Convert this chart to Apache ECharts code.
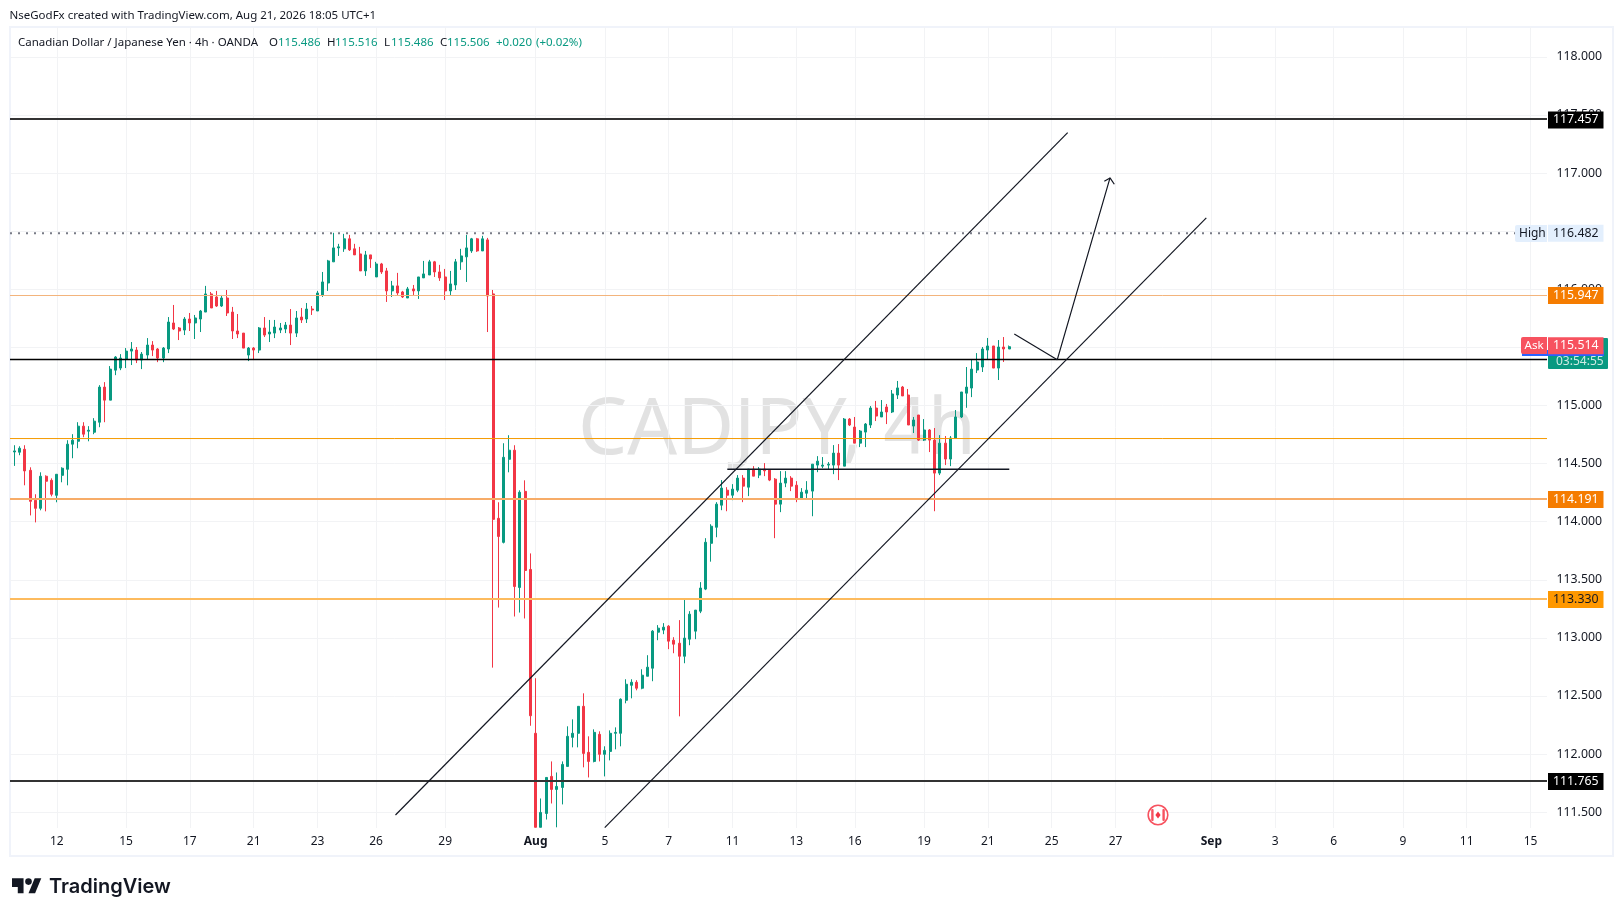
<!DOCTYPE html>
<html><head><meta charset="utf-8">
<style>html,body{margin:0;padding:0;background:#fff}#c{width:1623px;height:916px}</style>
<script src="https://cdn.jsdelivr.net/npm/echarts@6/dist/echarts.min.js"></script>
</head><body><div id="c"></div>
<script>
const opens=[114.600,114.598,114.623,114.442,114.184,114.115,114.391,114.356,114.227,114.399,
114.451,114.667,114.692,114.822,114.779,114.770,114.856,115.158,115.046,115.304,
115.322,115.399,115.468,115.477,115.391,115.434,115.520,115.486,115.408,115.486,
115.710,115.667,115.649,115.744,115.710,115.744,115.804,115.960,115.934,115.856,
115.925,115.804,115.641,115.623,115.434,115.494,115.477,115.667,115.615,115.623,
115.649,115.658,115.692,115.623,115.761,115.744,115.830,115.813,115.951,116.054,
116.236,116.356,116.348,116.434,116.348,116.304,116.158,116.296,116.106,116.218,
116.158,115.986,116.029,115.977,115.925,116.003,115.986,116.098,116.123,116.236,
116.149,116.106,115.986,116.037,116.236,116.279,116.330,116.434,116.330,116.425,
115.960,114.029,113.822,114.537,114.615,113.434,114.261,113.589,112.179,111.370,
111.489,111.808,111.696,111.713,111.894,112.144,112.179,112.411,112.015,111.937,
112.170,111.998,112.023,112.179,112.179,112.463,112.592,112.618,112.567,112.670,
112.739,113.049,113.067,113.101,112.980,112.954,112.842,112.989,113.058,113.230,
113.420,113.814,113.952,114.142,114.271,114.228,114.271,114.375,114.297,114.452,
114.401,114.452,114.444,114.366,114.151,114.332,114.375,114.314,114.202,114.245,
114.263,114.487,114.478,114.487,114.487,114.590,114.478,114.883,114.814,114.676,
114.771,114.832,114.978,114.901,114.987,114.944,115.090,115.159,115.090,114.823,
114.918,114.702,114.789,114.702,114.418,114.676,114.539,114.720,114.901,115.106,
115.150,115.305,115.331,115.477,115.512,115.322,115.503,115.486];
const closes=[114.609,114.632,114.437,114.175,114.115,114.391,114.348,114.236,114.408,114.460,
114.667,114.701,114.822,114.753,114.787,114.865,115.158,115.046,115.313,115.417,
115.408,115.468,115.486,115.391,115.442,115.520,115.477,115.408,115.494,115.718,
115.658,115.641,115.744,115.710,115.753,115.813,115.960,115.839,115.856,115.925,
115.796,115.641,115.615,115.494,115.494,115.477,115.667,115.606,115.632,115.675,
115.667,115.692,115.623,115.753,115.736,115.830,115.822,115.968,116.063,116.244,
116.356,116.365,116.434,116.339,116.296,116.158,116.296,116.261,116.218,116.149,
115.986,116.029,115.968,115.934,116.003,115.986,116.106,116.132,116.236,116.149,
116.098,115.986,116.046,116.236,116.287,116.356,116.434,116.330,116.434,115.942,
114.020,113.873,114.554,114.615,113.442,114.253,113.580,112.330,111.370,111.498,
111.799,111.696,111.722,111.911,112.153,112.179,112.411,112.006,111.937,112.187,
111.998,112.032,112.179,112.187,112.472,112.601,112.618,112.567,112.679,112.748,
113.058,113.084,113.092,112.972,112.946,112.842,112.998,113.204,113.239,113.429,
113.823,113.961,114.151,114.289,114.228,114.280,114.375,114.306,114.452,114.392,
114.452,114.438,114.358,114.151,114.332,114.375,114.306,114.202,114.254,114.271,
114.495,114.521,114.487,114.495,114.590,114.487,114.883,114.832,114.676,114.780,
114.840,114.978,114.909,114.944,114.944,115.099,115.151,115.082,114.832,114.875,
114.702,114.789,114.702,114.418,114.676,114.539,114.720,114.901,115.116,115.158,
115.313,115.374,115.486,115.512,115.322,115.503,115.486,115.506];
const lows=[114.480,114.572,114.313,114.054,113.994,114.098,114.089,114.218,114.167,114.339,
114.313,114.546,114.632,114.727,114.692,114.753,114.813,114.856,115.046,115.261,
115.304,115.322,115.348,115.365,115.313,115.391,115.425,115.373,115.373,115.451,
115.649,115.563,115.606,115.641,115.572,115.632,115.804,115.839,115.848,115.848,
115.770,115.572,115.580,115.494,115.382,115.391,115.451,115.589,115.546,115.580,
115.623,115.623,115.520,115.589,115.710,115.710,115.779,115.813,115.934,115.986,
116.236,116.287,116.322,116.330,116.296,116.158,116.115,116.184,116.106,116.132,
115.891,115.934,115.951,115.925,115.925,115.951,115.917,116.098,116.123,116.106,
116.072,115.908,115.942,115.994,116.167,116.063,116.313,116.322,116.330,115.632,
112.744,113.261,113.813,114.425,113.184,113.218,113.167,112.244,111.370,111.370,
111.437,111.575,111.370,111.567,111.894,112.058,112.058,111.886,111.799,111.929,
111.937,111.808,111.946,112.041,112.067,112.437,112.480,112.549,112.558,112.670,
112.627,112.980,113.032,112.903,112.868,112.325,112.782,112.937,112.989,113.213,
113.411,113.656,113.866,114.099,114.090,114.185,114.254,114.168,114.220,114.392,
114.375,114.392,114.349,113.858,114.082,114.297,114.263,114.168,114.194,114.202,
114.047,114.426,114.461,114.452,114.409,114.358,114.478,114.823,114.676,114.642,
114.642,114.806,114.866,114.901,114.840,114.935,115.056,115.082,114.832,114.763,
114.694,114.694,114.599,114.090,114.401,114.487,114.478,114.720,114.892,114.980,
115.072,115.279,115.288,115.391,115.322,115.219,115.374,115.486];
const highs=[114.658,114.649,114.658,114.468,114.236,114.425,114.399,114.373,114.408,114.468,
114.701,114.753,114.856,114.856,114.822,114.891,115.175,115.201,115.339,115.425,
115.442,115.494,115.546,115.503,115.460,115.580,115.554,115.494,115.503,115.761,
115.865,115.675,115.761,115.796,115.779,115.822,116.029,115.977,115.986,115.951,
115.994,115.848,115.787,115.623,115.503,115.503,115.675,115.761,115.736,115.736,
115.710,115.718,115.830,115.813,115.839,115.882,115.856,115.986,116.149,116.253,
116.486,116.391,116.477,116.468,116.391,116.365,116.330,116.296,116.236,116.227,
116.184,116.072,116.141,115.986,116.020,116.037,116.106,116.244,116.253,116.244,
116.210,116.175,116.158,116.261,116.348,116.468,116.442,116.442,116.460,116.442,
115.994,114.167,114.675,114.744,114.658,114.270,114.356,113.727,112.653,111.618,
111.799,111.937,111.842,111.937,112.239,112.299,112.411,112.523,112.153,112.213,
112.196,112.067,112.204,112.230,112.480,112.644,112.644,112.636,112.730,112.851,
113.067,113.110,113.127,113.110,113.006,113.153,113.334,113.230,113.239,113.480,
113.858,113.978,114.168,114.358,114.297,114.323,114.401,114.401,114.452,114.478,
114.470,114.504,114.452,114.375,114.435,114.435,114.392,114.349,114.289,114.349,
114.495,114.564,114.556,114.513,114.659,114.668,114.892,114.892,114.901,114.789,
114.849,114.995,115.039,115.047,115.013,115.133,115.211,115.168,115.142,114.901,
114.918,114.883,114.797,114.806,114.745,114.737,114.737,114.961,115.116,115.331,
115.400,115.451,115.503,115.581,115.512,115.563,115.589,115.516];

const xTickBars=[8,21,33,45,57,68,81,98,111,123,135,147,158,171,183,195,207,225,237,248,261,273,285];
const xTickLabels=['12','15','17','21','23','26','29','Aug','5','7','11','13','16','19','21','25','27','Sep','3','6','9','11','15'];
const yTicks=[111.5,112,112.5,113,113.5,114,114.5,115,115.5,116,116.5,117,117.5,118];

const levelPrices=[117.465,115.9463,115.3955,114.7154,114.195,113.3344,111.768];
const levelColors=['#333333','#f3b47c','#000000','#f59a00','#f7ac68','#fdbb5e','#333333'];
const levelWidths=[2,1,1.5,1,2,2,2];
const highPrice=116.482;
const tagPrices=[117.457,116.482,115.947,115.514,114.191,113.330,111.765];
const tagFills=['#000000','#e3effd','#f57c00','#f7525f','#f57c00','#ff9800','#000000'];
const tagTexts=['#ffffff','#131722','#ffffff','#ffffff','#ffffff','#131722','#ffffff'];
const channelUpper=[[71.65,111.476],[198.0,117.348]];
const channelLower=[[110.98,111.367],[224.06,116.614]];
const supportSegment=[[134.02,114.451],[187.03,114.451]];
const projection=[[187.97,115.615],[196.05,115.394],[205.96,116.958]];
const arrowHead=[[204.89,116.929],[205.96,116.958],[206.77,116.904]];

const xMin=-0.808, xMax=288.1, yMin=111.364, yMax=118.257;
const UI='"Noto Sans",sans-serif';
const FS=11.5;
const UP='#089981', DOWN='#f23645';

const candleData=opens.map((o,i)=>[i,o,closes[i],lows[i],highs[i]]);
function lineS(data,color,width,z,type){return {type:'line',data,symbol:'none',silent:true,z:z||4,
  lineStyle:{color,width,type:type||'solid',cap:'butt'},animation:false,clip:true};}
const series=[{type:'candlestick',data:candleData,barWidth:2.5,z:3,clip:true,silent:true,animation:false,
  itemStyle:{color:UP,color0:DOWN,borderColor:UP,borderColor0:DOWN,borderWidth:1}}];
levelPrices.forEach((p,i)=>series.push(lineS([[xMin,p],[xMax,p]],levelColors[i],levelWidths[i])));
series.push(lineS([[xMin,highPrice],[282.1,highPrice]],'#787b86',2,4,[2,6]));
[channelUpper,channelLower,supportSegment].forEach((d,i)=>series.push(lineS(d,'#131722',i==2?1.5:1.2)));
series.push(lineS(projection,'#131722',1.2));
series.push(lineS(arrowHead,'#131722',1.2));
tagPrices.forEach((p,i)=>{const s=lineS([[xMin,p],[xMax,p]],'#000',0,10);s.lineStyle.opacity=0;
  s.endLabel={show:true,formatter:p.toFixed(3),distance:1,backgroundColor:tagFills[i],color:tagTexts[i],
    fontFamily:UI,fontSize:12.3,padding:[2,5,2,5],lineHeight:13};series.push(s);});

function txt(x,y,text,fill,size,extra){return Object.assign({type:'text',x,y,z:5,silent:true,
  style:{text,fill,font:(size||FS)+'px '+UI,textVerticalAlign:'middle'}},extra||{});}
const green='#089981',ink='#131722';
const graphics=[
 {type:'rect',z:0,silent:true,shape:{x:10,y:27,width:1603,height:829},style:{fill:'none',stroke:'#f0f3fa',lineWidth:2}},
 {type:'text',z:0,silent:true,x:578,y:432,style:{text:'CADJPY, 4h',fill:'#e2e2e2',font:'78px "Noto Sans",sans-serif',textVerticalAlign:'middle'}},
 txt(9.5,15.5,'NseGodFx created with TradingView.com, Aug 21, 2026 18:05 UTC+1',ink),
 txt(18,43,'Canadian Dollar / Japanese Yen · 4h · OANDA',ink),
 txt(269,43,'O',ink),txt(278,43,'115.486',green),
 txt(327,43,'H',ink),txt(335,43,'115.516',green),
 txt(384,43,'L',ink),txt(391,43,'115.486',green),
 txt(440,43,'C',ink),txt(447,43,'115.506',green),
 txt(496,43,'+0.020',green),txt(536,43,'(+0.02%)',green),
 // countdown and bid behind the Ask tag
 {type:'rect',z:1,silent:true,shape:{x:1548,y:338,width:60,height:31,r:1},style:{fill:'#089981'}},
 txt(1556,361.5,'03:54:55','#cdebe3',12,{z:1}),
 {type:'rect',z:1,silent:true,shape:{x:1522,y:350,width:82,height:6},style:{fill:'#2962ff'}},
 {type:'rect',z:11,silent:true,shape:{x:1521,y:337,width:26,height:17,r:[2,0,0,2]},style:{fill:'#f7525f'}},
 txt(1524.5,345.5,'Ask','#ffffff',11.6,{z:12}),
 {type:'rect',z:11,silent:true,shape:{x:1515,y:225,width:32,height:17,r:[2,0,0,2]},style:{fill:'#e3effd'}},
 txt(1519,233.5,'High',ink,12,{z:12}),
 // Canada event marker
 {type:'circle',z:5,silent:true,shape:{cx:1158,cy:815,r:9.8},style:{fill:'#fff',stroke:'#f7525f',lineWidth:1.6}},
 {type:'rect',z:5,silent:true,shape:{x:1151.2,y:809,width:2.4,height:12,r:1},style:{fill:'#f7525f'}},
 {type:'rect',z:5,silent:true,shape:{x:1162.4,y:809,width:2.4,height:12,r:1},style:{fill:'#f7525f'}},
 {type:'polygon',z:5,silent:true,shape:{points:[[1158,811.5],[1160.6,815],[1158,818.5],[1155.4,815]]},style:{fill:'#f23645'}},
 // footer logo
 {type:'polygon',silent:true,z:5,shape:{points:[[12,878.3],[23.55,878.3],[23.55,893.15],[17.78,893.15],[17.78,887.08],[12,887.08]]},style:{fill:'#131722'}},
 {type:'polygon',silent:true,z:5,shape:{points:[[35.1,893.15],[28.5,893.15],[34.69,878.3],[41.29,878.3]]},style:{fill:'#131722'}},
 {type:'circle',silent:true,z:5,shape:{cx:28.5,cy:881.6,r:3.3},style:{fill:'#131722'}},
 {type:'text',silent:true,z:5,x:49,y:887,style:{text:'TradingView',fill:'#131722',font:'600 20px Inter,sans-serif',textVerticalAlign:'middle'}}
];

const chart=echarts.init(document.getElementById('c'),null,{renderer:'canvas'});
chart.setOption({
 animation:false,backgroundColor:'#ffffff',
 grid:{left:10,top:27,width:1537,height:801,containLabel:false},
 xAxis:{type:'value',min:xMin,max:xMax,scale:true,
  axisLine:{show:false},
  axisTick:{show:false,customValues:xTickBars},
  axisLabel:{customValues:xTickBars,margin:8,color:ink,fontFamily:UI,fontSize:12,hideOverlap:false,showMinLabel:true,showMaxLabel:true,
    formatter:v=>{const l=xTickLabels[xTickBars.indexOf(v)];return (l==='Aug'||l==='Sep')?'{b|'+l+'}':l;},
    rich:{b:{fontWeight:'bold',color:ink,fontFamily:UI,fontSize:12}}},
  splitLine:{show:true,lineStyle:{color:'#f2f3f5',width:1}}},
 yAxis:{type:'value',position:'right',min:yMin,max:yMax,scale:true,
  axisLine:{show:false},
  axisTick:{show:false,customValues:yTicks},
  axisLabel:{customValues:yTicks,margin:9.5,color:ink,fontFamily:UI,fontSize:12.3,align:'left',formatter:v=>v.toFixed(3)},
  splitLine:{show:true,lineStyle:{color:'#f2f3f5',width:1}}},
 series,
 graphic:{elements:graphics}
});
</script></body></html>
